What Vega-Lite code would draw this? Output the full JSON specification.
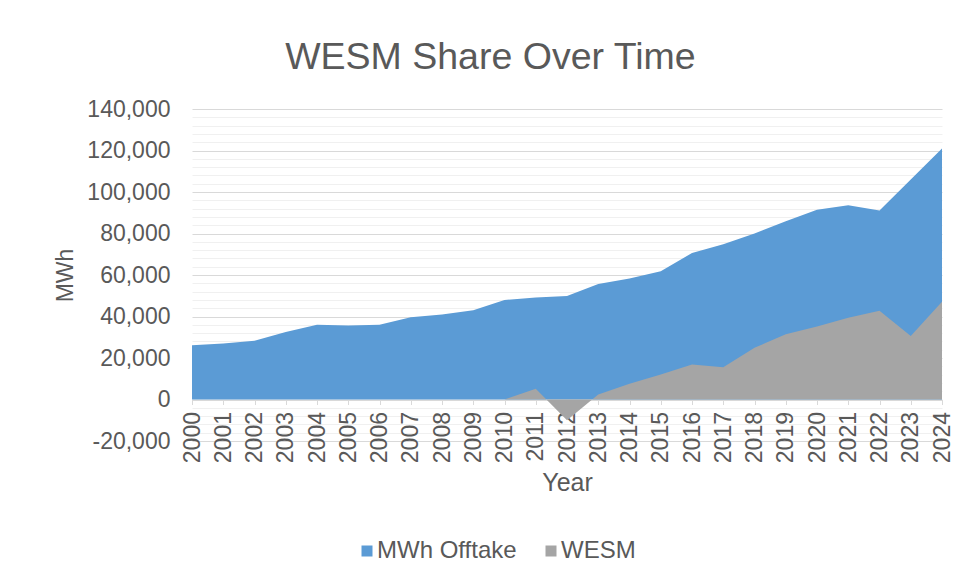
{
  "$schema": "https://vega.github.io/schema/vega-lite/v6.json",
  "width": 750,
  "height": 332,
  "autosize": {"type": "none"},
  "padding": {"left": 192, "top": 109, "right": 21, "bottom": 145},
  "background": "white",
  "config": {
    "font": "Liberation Sans",
    "view": {"stroke": null}
  },
  "title": {
    "text": "WESM Share Over Time",
    "fontSize": 37.5,
    "fontWeight": "normal",
    "color": "#595959",
    "anchor": "middle",
    "frame": "bounds",
    "offset": 22,
    "dx": -14
  },
  "data": {
    "values": [
      {"Year": 2000, "Series": "MWh Offtake", "MWh": 26200},
      {"Year": 2001, "Series": "MWh Offtake", "MWh": 27000},
      {"Year": 2002, "Series": "MWh Offtake", "MWh": 28300},
      {"Year": 2003, "Series": "MWh Offtake", "MWh": 32500},
      {"Year": 2004, "Series": "MWh Offtake", "MWh": 36000},
      {"Year": 2005, "Series": "MWh Offtake", "MWh": 35700},
      {"Year": 2006, "Series": "MWh Offtake", "MWh": 36000},
      {"Year": 2007, "Series": "MWh Offtake", "MWh": 39600},
      {"Year": 2008, "Series": "MWh Offtake", "MWh": 41000},
      {"Year": 2009, "Series": "MWh Offtake", "MWh": 43000},
      {"Year": 2010, "Series": "MWh Offtake", "MWh": 48000},
      {"Year": 2011, "Series": "MWh Offtake", "MWh": 49100},
      {"Year": 2012, "Series": "MWh Offtake", "MWh": 49900},
      {"Year": 2013, "Series": "MWh Offtake", "MWh": 55700},
      {"Year": 2014, "Series": "MWh Offtake", "MWh": 58300},
      {"Year": 2015, "Series": "MWh Offtake", "MWh": 61800},
      {"Year": 2016, "Series": "MWh Offtake", "MWh": 70600},
      {"Year": 2017, "Series": "MWh Offtake", "MWh": 74800},
      {"Year": 2018, "Series": "MWh Offtake", "MWh": 80000},
      {"Year": 2019, "Series": "MWh Offtake", "MWh": 85900},
      {"Year": 2020, "Series": "MWh Offtake", "MWh": 91500},
      {"Year": 2021, "Series": "MWh Offtake", "MWh": 93600},
      {"Year": 2022, "Series": "MWh Offtake", "MWh": 91100},
      {"Year": 2023, "Series": "MWh Offtake", "MWh": 106000},
      {"Year": 2024, "Series": "MWh Offtake", "MWh": 121000},
      {"Year": 2000, "Series": "WESM", "MWh": 0},
      {"Year": 2001, "Series": "WESM", "MWh": 0},
      {"Year": 2002, "Series": "WESM", "MWh": 0},
      {"Year": 2003, "Series": "WESM", "MWh": 0},
      {"Year": 2004, "Series": "WESM", "MWh": 0},
      {"Year": 2005, "Series": "WESM", "MWh": 0},
      {"Year": 2006, "Series": "WESM", "MWh": 0},
      {"Year": 2007, "Series": "WESM", "MWh": 0},
      {"Year": 2008, "Series": "WESM", "MWh": 0},
      {"Year": 2009, "Series": "WESM", "MWh": 0},
      {"Year": 2010, "Series": "WESM", "MWh": 0},
      {"Year": 2011, "Series": "WESM", "MWh": 5200},
      {"Year": 2012, "Series": "WESM", "MWh": -10000},
      {"Year": 2013, "Series": "WESM", "MWh": 2400},
      {"Year": 2014, "Series": "WESM", "MWh": 7600},
      {"Year": 2015, "Series": "WESM", "MWh": 12100},
      {"Year": 2016, "Series": "WESM", "MWh": 16900},
      {"Year": 2017, "Series": "WESM", "MWh": 15500},
      {"Year": 2018, "Series": "WESM", "MWh": 24900},
      {"Year": 2019, "Series": "WESM", "MWh": 31400},
      {"Year": 2020, "Series": "WESM", "MWh": 35200},
      {"Year": 2021, "Series": "WESM", "MWh": 39400},
      {"Year": 2022, "Series": "WESM", "MWh": 42800},
      {"Year": 2023, "Series": "WESM", "MWh": 30600},
      {"Year": 2024, "Series": "WESM", "MWh": 47100}
    ]
  },
  "encoding": {
    "x": {
      "field": "Year",
      "type": "quantitative",
      "scale": {"domain": [2000, 2024], "nice": false, "zero": false},
      "axis": {
        "title": "Year",
        "values": [2000, 2001, 2002, 2003, 2004, 2005, 2006, 2007, 2008, 2009, 2010, 2011, 2012, 2013, 2014, 2015, 2016, 2017, 2018, 2019, 2020, 2021, 2022, 2023, 2024],
        "format": "d",
        "labelAngle": -90,
        "labelFontSize": 23,
        "labelColor": "#595959",
        "labelPadding": 7,
        "labelFlush": false,
        "labelOverlap": false,
        "tickSize": 5,
        "tickColor": "#D9D9D9",
        "domainColor": "#D9D9D9",
        "grid": false,
        "offset": -41.5,
        "titleFontSize": 25,
        "titleFontWeight": "normal",
        "titleColor": "#595959",
        "titlePadding": 8
      }
    },
    "y": {
      "field": "MWh",
      "type": "quantitative",
      "stack": null,
      "scale": {"domain": [-20000, 140000], "nice": false},
      "axis": {
        "title": "MWh",
        "values": [-20000, -16000, -12000, -8000, -4000, 0, 4000, 8000, 12000, 16000, 20000, 24000, 28000, 32000, 36000, 40000, 44000, 48000, 52000, 56000, 60000, 64000, 68000, 72000, 76000, 80000, 84000, 88000, 92000, 96000, 100000, 104000, 108000, 112000, 116000, 120000, 124000, 128000, 132000, 136000, 140000],
        "labelExpr": "datum.value % 20000 === 0 ? (datum.value < 0 ? '-' : '') + format(abs(datum.value), ',') : ''",
        "labelFontSize": 23,
        "labelColor": "#595959",
        "labelPadding": 22,
        "labelOverlap": false,
        "labelFlush": false,
        "ticks": false,
        "domain": false,
        "gridColor": {"condition": {"test": "datum.value % 20000 === 0", "value": "#D9D9D9"}, "value": "#F0F0F0"},
        "titleFontSize": 23,
        "titleFontWeight": "normal",
        "titleColor": "#595959",
        "titlePadding": 9
      }
    },
    "color": {
      "field": "Series",
      "type": "nominal",
      "scale": {"domain": ["MWh Offtake", "WESM"], "range": ["#5B9BD5", "#A5A5A5"]},
      "legend": {
        "title": null,
        "orient": "none",
        "legendX": 163,
        "legendY": 430,
        "direction": "horizontal",
        "symbolType": "square",
        "symbolSize": 121,
        "symbolStrokeWidth": 0,
        "labelFontSize": 24,
        "labelColor": "#595959",
        "labelOffset": -2,
        "columnPadding": 22
      }
    }
  },
  "layer": [
    {
      "transform": [{"filter": "datum.Series === 'MWh Offtake'"}],
      "mark": {"type": "area", "opacity": 1, "interpolate": "linear"}
    },
    {
      "transform": [{"filter": "datum.Series === 'WESM'"}],
      "mark": {"type": "area", "opacity": 1, "interpolate": "linear"}
    }
  ]
}
